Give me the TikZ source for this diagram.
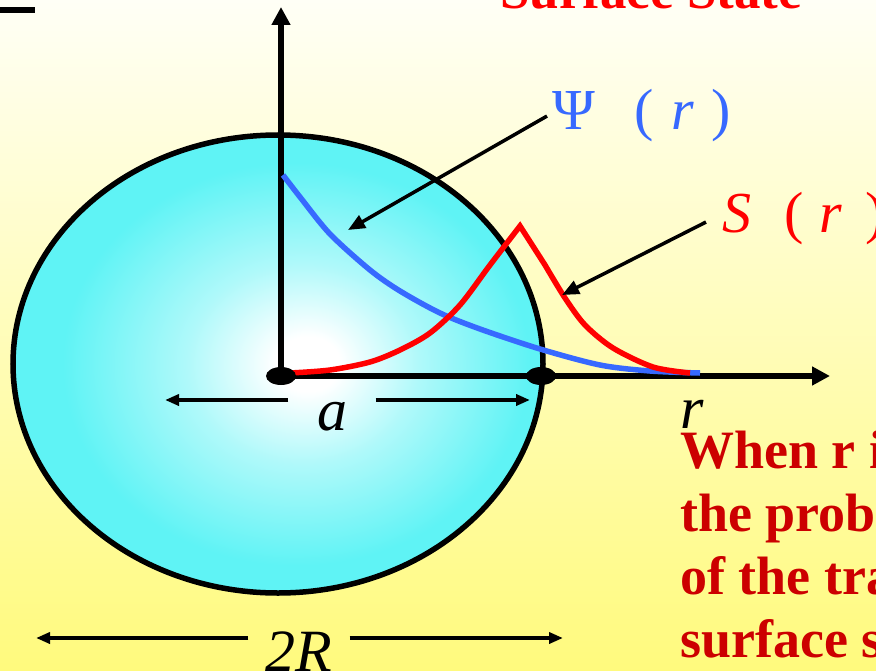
\documentclass[tikz,border=0pt]{standalone}
\usepackage{fontspec}
\setmainfont{Liberation Serif}
\usetikzlibrary{arrows.meta,shapes.geometric,positioning}
\definecolor{bubblecyan}{RGB}{95,243,245}
\definecolor{psiblue}{RGB}{55,105,255}
\definecolor{noteRed}{RGB}{204,0,0}
\pgfdeclareradialshading{bubble}{\pgfpoint{3bp}{0bp}}{color(0bp)=(white);color(3bp)=(white);color(11bp)=(white!50!bubblecyan);color(22bp)=(bubblecyan);color(50bp)=(bubblecyan)}

\begin{document}
\begin{tikzpicture}[x=1bp,y=-1bp,
    axis/.style={line width=6bp,-{Triangle[length=18bp,width=18bp]}},
    dimline/.style={line width=3.5bp,-{Triangle[length=14bp,width=11bp]}},
    pointer/.style={line width=3.5bp,-{Triangle[length=17bp,width=14bp]}},
    dot/.style={ellipse,fill=black,minimum width=30bp,minimum height=18bp,inner sep=0pt},
    curve/.style={line width=5.5bp,line join=miter},
    lab/.style={inner sep=0pt,anchor=base,font=\fontsize{60bp}{60bp}\selectfont\itshape},
    note/.style={inner sep=0pt,anchor=base west,text=noteRed,font=\fontsize{54bp}{54bp}\selectfont\bfseries}]
  \clip (0,0) rectangle (876,671);
  \shade[top color={rgb,255:red,255;green,255;blue,246},middle color={rgb,255:red,255;green,255;blue,222},
    bottom color={rgb,255:red,255;green,250;blue,125}] (0,0) rectangle (876,671);
  \draw[line width=6bp] (0,10) -- (35,10);
  \node[inner sep=0pt,anchor=base west,text=red,font=\fontsize{53bp}{53bp}\selectfont\bfseries] (title) at (500,9) {Surface State};

  \shade[shading=bubble,draw,line width=5.5bp] (278,364) ellipse[x radius=265,y radius=229];

  \coordinate (O) at (281,376);
  \coordinate (A) at (541,376);
  \coordinate (ytip) at (281,7);
  \coordinate (xtip) at (830,376);
  \draw[axis] (O) -- (ytip);
  \draw[axis] (O) -- (xtip);

  \draw[curve,psiblue] plot[smooth] coordinates {(283,175) (300,197) (330,234) (370,270) (400,291) (440,313) (480,329) (540,349) (600,365) (650,371) (700,373)};
  \draw[curve,red] plot[smooth] coordinates {(290,373) (330,370) (370,362) (400,350) (430,333) (460,305) (490,265) (520,226)}
    -- plot[smooth] coordinates {(545,265) (565,298) (585,325) (613,348) (653,367) (690,373)};

  \node[dot] (Odot) at (O) {};
  \node[dot] (Adot) at (A) {};

  \node[lab,minimum width=87bp] (alab) at (332,430) {a};
  \coordinate (aL) at (165,400);
  \coordinate (aR) at (530,400);
  \draw[dimline] (alab.west |- aL) -- (aL);
  \draw[dimline] (alab.east |- aR) -- (aR);
  \node[lab] (rlab) at (692,428) {r};

  \node[lab,minimum width=101bp] (Rlab) at (299,671) {2R};
  \coordinate (RL) at (36,638);
  \coordinate (RR) at (563,638);
  \draw[dimline] (Rlab.west |- RL) -- (RL);
  \draw[dimline] (Rlab.east |- RR) -- (RR);

  \node[inner sep=0pt,anchor=base west,text=psiblue,font=\fontsize{58bp}{58bp}\selectfont] (psilab) at (552,130)
    {Ψ\hspace{40bp}(\hspace{17bp}\textit{r}\hspace{17bp})};
  \node[inner sep=0pt,anchor=base west,text=red,font=\fontsize{58bp}{58bp}\selectfont] (slab) at (722,232)
    {\textit{S}\hspace{33bp}(\hspace{16bp}\textit{r}\hspace{23bp})};
  \coordinate (psitip) at (348,230);
  \coordinate (stip) at (562,295);
  \draw[pointer] ([xshift=-5bp]psilab.west) -- (psitip);
  \draw[pointer] ([xshift=-16bp,yshift=-4bp]slab.west) -- (stip);

  \foreach \txt [count=\i from 0] in {When r is,the proba,of the tra,surface st}
    \node[note] (note\i) at (680,468+63*\i) {\txt};
\end{tikzpicture}
\end{document}
